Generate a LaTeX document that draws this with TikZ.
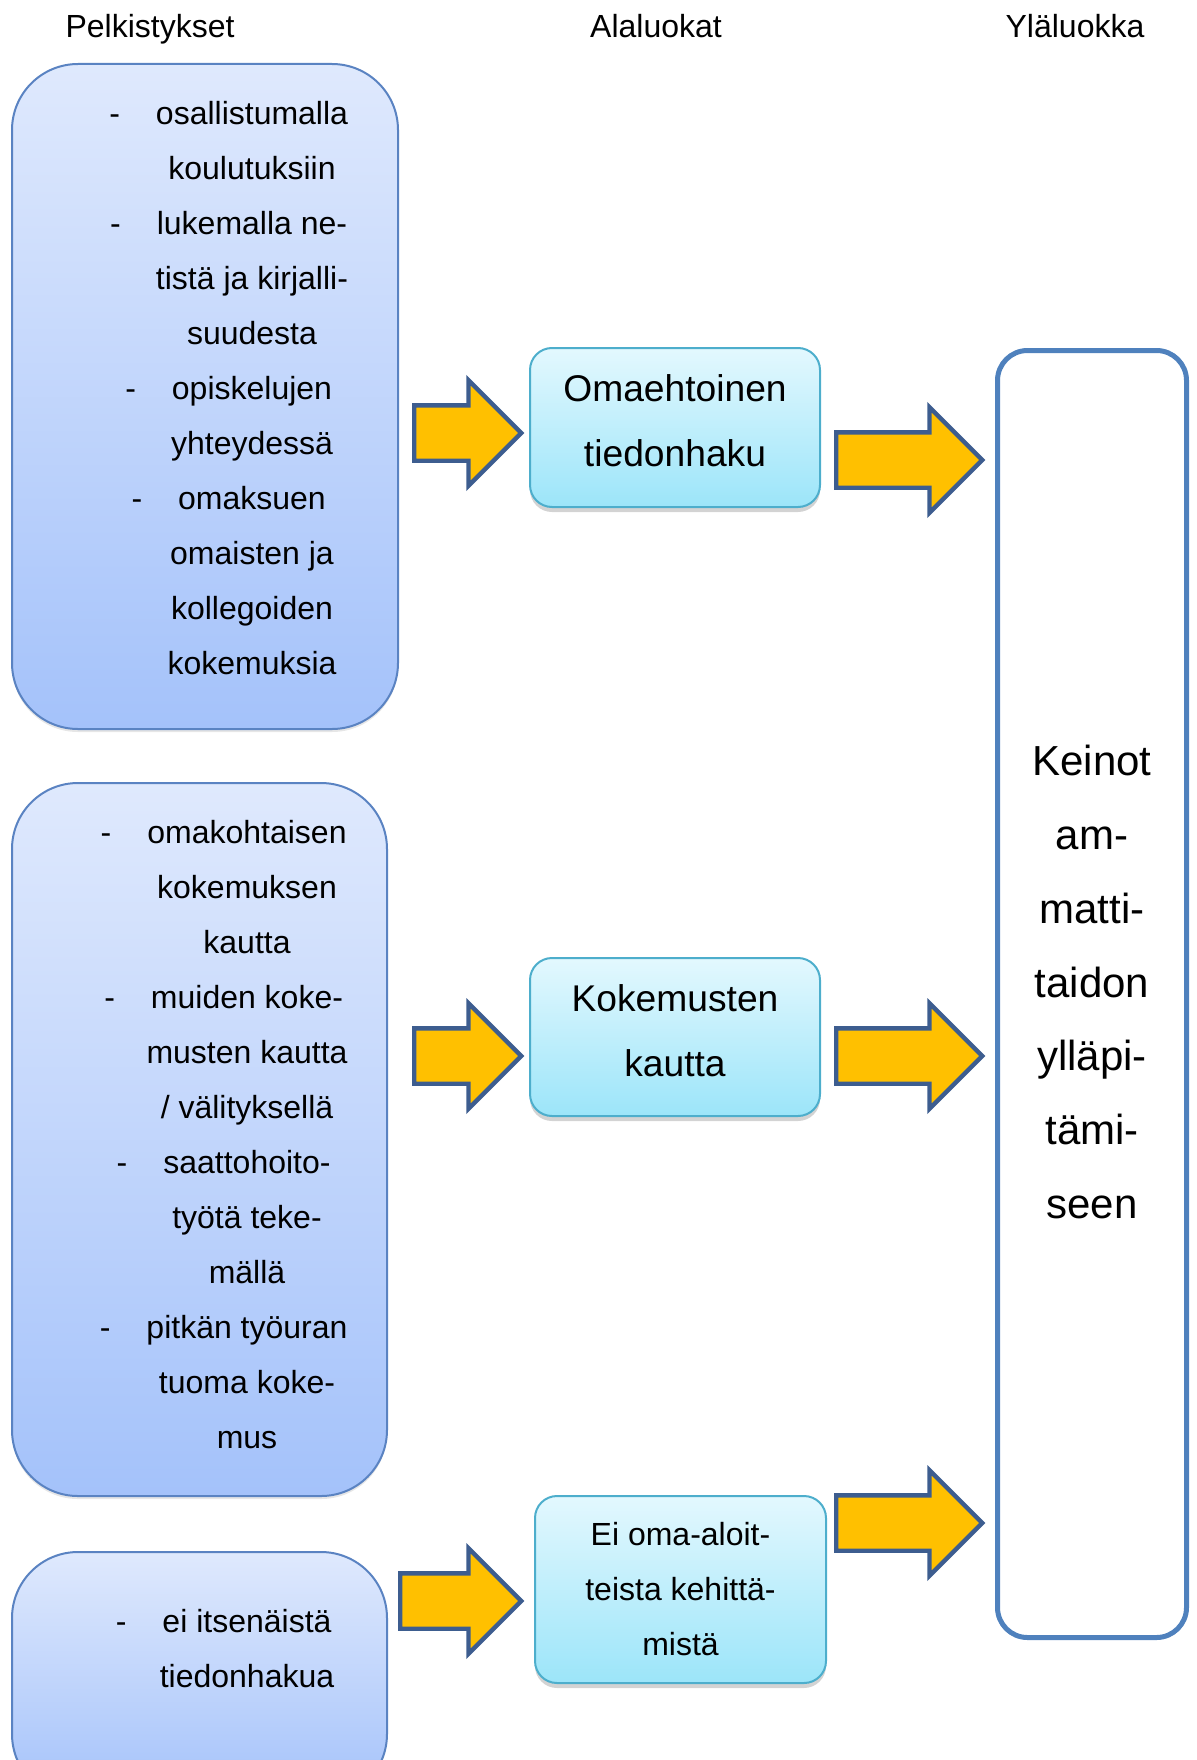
\documentclass[tikz,border=0pt]{standalone}
\usepackage{fontspec}
\setmainfont{Liberation Sans}
\usetikzlibrary{shapes.arrows}
\usetikzlibrary{shadows}
\usetikzlibrary{positioning}

\definecolor{pTop}{HTML}{DFE9FD}
\definecolor{pBot}{HTML}{A4C2FA}
\definecolor{pLine}{HTML}{5A83C2}
\definecolor{aTop}{HTML}{E3F8FE}
\definecolor{aBot}{HTML}{9CE5F9}
\definecolor{aLine}{HTML}{4DAECC}
\definecolor{yLine}{HTML}{4F81BD}
\definecolor{nFill}{HTML}{FFC000}
\definecolor{nLine}{HTML}{3D5D8F}

\newcommand{\viiva}{\llap{-\hspace{18pt}}}

\begin{document}
\begin{tikzpicture}[x=0.5pt,y=-0.5pt,
  otsikko/.style={font=\fontsize{16pt}{19pt}\selectfont, anchor=base},
  pbox/.style={draw=pLine, line width=1pt, rounded corners=33pt,
    top color=pTop, bottom color=pBot,
    drop shadow={shadow xshift=0pt, shadow yshift=-1.5pt, opacity=0.2}},
  ptext/.style={align=center, font=\fontsize{16pt}{27.5pt}\selectfont},
  abox/.style={draw=aLine, line width=1pt, rounded corners=11pt,
    top color=aTop, bottom color=aBot,
    drop shadow={shadow xshift=0pt, shadow yshift=-2.5pt, opacity=0.35}},
  atext/.style={align=center, font=\fontsize{18.6pt}{32.5pt}\selectfont},
  ybox/.style={draw=yLine, line width=2.5pt, rounded corners=15pt},
  nuoli/.style={single arrow, draw=nLine, fill=nFill, line width=2.2pt,
    inner xsep=0pt, inner ysep=12.75pt, single arrow head extend=12.5pt,
    anchor=tail}]
\useasboundingbox (0,0) rectangle (1196,1760);
\clip (0,0) rectangle (1196,1760);

\node[otsikko] (h1) at (150,38) {Pelkistykset};
\node[otsikko] (h2) at (656,38) {Alaluokat};
\node[otsikko] (h3) at (1075,38) {Yläluokka};

\node[pbox, minimum width=193pt, minimum height=332.5pt] (p1) at (205,396.5) {};
\node[pbox, minimum width=187.5pt, minimum height=356.5pt] (p2) at (199.5,1139.5) {};
\node[pbox, minimum width=187.5pt, minimum height=124pt] (p3) at (199.5,1676) {};

\node[ptext] (p1t) at (252,388) {\viiva osallistumalla\\ koulutuksiin\\
  \viiva lukemalla ne-\\ tistä ja kirjalli-\\ suudesta\\
  \viiva opiskelujen\\ yhteydessä\\
  \viiva omaksuen\\ omaisten ja\\ kollegoiden\\ kokemuksia};
\node[ptext] (p2t) at (247,1135) {\viiva omakohtaisen\\ kokemuksen\\ kautta\\
  \viiva muiden koke-\\ musten kautta\\ / välityksellä\\
  \viiva saattohoito-\\ työtä teke-\\ mällä\\
  \viiva pitkän työuran\\ tuoma koke-\\ mus};
\node[ptext] (p3t) at (247,1649) {\viiva ei itsenäistä\\ tiedonhakua};

\node[abox, minimum width=145pt, minimum height=79.5pt] (a1) at (675,427.5) {};
\node[abox, minimum width=145pt, minimum height=79pt] (a2) at (675,1037) {};
\node[abox, minimum width=145.5pt, minimum height=93.5pt] (a3) at (680.5,1589.5) {};
\node[atext] (a1t) at (675,421) {Omaehtoinen\\ tiedonhaku};
\node[atext] (a2t) at (675,1031) {Kokemusten\\ kautta};
\node[ptext] (a3t) at (680.5,1589.5) {Ei oma-aloit-\\ teista kehittä-\\ mistä};

\node[ybox, minimum width=94.5pt, minimum height=643.5pt] (y) at (1092,994) {};
\node[align=center, font=\fontsize{21pt}{36.9pt}\selectfont] (yt) at (1092,982)
  {Keinot\\ am-\\ matti-\\ taidon\\ ylläpi-\\ tämi-\\ seen};

\node[nuoli, minimum height=53.5pt] (n1) at (412,433) {};
\node[nuoli, minimum height=53.5pt] (n2) at (412,1056) {};
\node[nuoli, minimum height=60.5pt] (n3) at (398,1601) {};
\node[nuoli, minimum height=73pt] (m1) at (834,460) {};
\node[nuoli, minimum height=73pt] (m2) at (834,1056) {};
\node[nuoli, minimum height=73pt] (m3) at (834,1523) {};
\end{tikzpicture}
\end{document}
